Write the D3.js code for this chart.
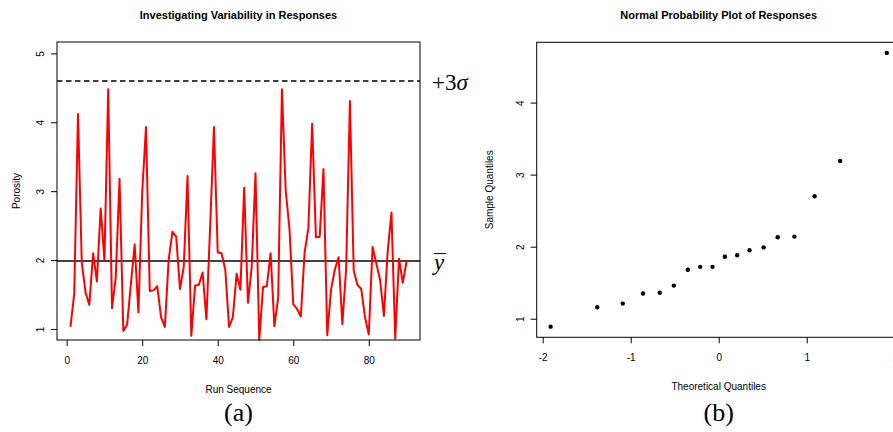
<!DOCTYPE html>
<html>
<head>
<meta charset="utf-8">
<script src="https://cdn.jsdelivr.net/npm/d3@7"></script>
<style>
  body { margin: 0; background: #fff; }
  svg { display: block; }
  text { font-family: "Liberation Sans", Arial, sans-serif; fill: #000; }
</style>
</head>
<body>
<svg id="chart" width="893" height="432"></svg>
<script>
// run sequence (panel a) - porosity per run
const runValues = [
  1.03, 1.51, 4.12, 1.96, 1.53, 1.35, 2.10, 1.69, 2.75, 2.00,
  4.48, 1.30, 1.75, 3.18, 0.97, 1.06, 1.65, 2.23, 1.24, 2.98,
  3.93, 1.55, 1.56, 1.62, 1.17, 1.03, 2.00, 2.41, 2.34, 1.58,
  1.90, 3.22, 0.90, 1.63, 1.64, 1.82, 1.14, 2.50, 3.93, 2.11,
  2.10, 1.86, 1.03, 1.17, 1.80, 1.57, 3.05, 1.38, 1.90, 3.26,
  0.84, 1.61, 1.62, 2.10, 1.04, 1.45, 4.48, 3.01, 2.45, 1.36,
  1.29, 1.18, 2.11, 2.46, 3.98, 2.33, 2.34, 3.32, 0.91, 1.57,
  1.86, 2.04, 1.07, 1.87, 4.31, 1.85, 1.64, 1.58, 1.17, 0.92,
  2.19, 1.95, 1.71, 1.19, 2.12, 2.69, 0.86, 2.02, 1.67, 1.98
];
const meanLevel = 1.985;
const upperLimit = 4.60;   // +3 sigma
const runTicks = [0, 20, 40, 60, 80];
const porosityTicks = [1, 2, 3, 4, 5];

// normal probability plot (panel b)
const theoreticalQ = [-1.91, -1.38, -1.09, -0.86, -0.67, -0.51, -0.35, -0.21, -0.07,
                      0.07, 0.21, 0.35, 0.51, 0.67, 0.86, 1.09, 1.38, 1.91];
const sampleQ = [0.89, 1.16, 1.21, 1.35, 1.36, 1.46, 1.68, 1.72, 1.72,
                 1.86, 1.88, 1.95, 1.99, 2.13, 2.14, 2.70, 3.19, 4.69];
const theoTicks = [-2, -1, 0, 1, 2];
const sampleTicks = [1, 2, 3, 4];

const svg = d3.select("#chart");

const tickFont = 10;
const plainFmt = d => String(d);   // R prints a plain hyphen, not the unicode minus

// ---------- panel (a) ----------
const boxA = { left: 57, right: 420, top: 42, bottom: 340 };
const xA = d3.scaleLinear().domain([-2.56, 93.56]).range([boxA.left, boxA.right]);
const yA = d3.scaleLinear().domain([0.84, 5.165]).range([boxA.bottom, boxA.top]);

const gA = svg.append("g");

gA.append("line")
    .attr("x1", boxA.left).attr("x2", boxA.right)
    .attr("y1", yA(upperLimit)).attr("y2", yA(upperLimit))
    .attr("stroke", "#000").attr("stroke-width", 1.5)
    .attr("stroke-dasharray", "5.5,3.5");

gA.append("line")
    .attr("x1", boxA.left).attr("x2", boxA.right)
    .attr("y1", yA(meanLevel)).attr("y2", yA(meanLevel))
    .attr("stroke", "#000").attr("stroke-width", 1.5);

const runLine = d3.line()
    .x((d, i) => xA(i + 1))
    .y(d => yA(d));

gA.append("path")
    .datum(runValues)
    .attr("d", runLine)
    .attr("fill", "none")
    .attr("stroke", "#ff0000")
    .attr("stroke-width", 2)
    .attr("stroke-linejoin", "round");

gA.append("rect")
    .attr("x", boxA.left).attr("y", boxA.top)
    .attr("width", boxA.right - boxA.left).attr("height", boxA.bottom - boxA.top)
    .attr("fill", "none").attr("stroke", "#000").attr("stroke-width", 1);

const axA_x = gA.append("g")
    .attr("transform", `translate(0,${boxA.bottom})`)
    .call(d3.axisBottom(xA).tickValues(runTicks).tickFormat(plainFmt).tickSize(6).tickPadding(11));
axA_x.select(".domain").remove();

const axA_y = gA.append("g")
    .attr("transform", `translate(${boxA.left},0)`)
    .call(d3.axisLeft(yA).tickValues(porosityTicks).tickFormat(plainFmt).tickSize(6));
axA_y.select(".domain").remove();
axA_y.selectAll(".tick text")
    .attr("transform", "rotate(-90)")
    .attr("x", 0).attr("y", -13)
    .attr("dy", "0")
    .style("text-anchor", "middle");

svg.selectAll(".tick text").style("font-size", tickFont + "px")
    .style("font-family", "Liberation Sans, Arial, sans-serif");

gA.append("text")
    .attr("x", (boxA.left + boxA.right) / 2).attr("y", 19)
    .attr("text-anchor", "middle")
    .style("font-weight", "bold").style("font-size", "11px")
    .text("Investigating Variability in Responses");

gA.append("text")
    .attr("x", (boxA.left + boxA.right) / 2).attr("y", 393)
    .attr("text-anchor", "middle")
    .style("font-size", "10px")
    .text("Run Sequence");

gA.append("text")
    .attr("transform", `translate(20,${(boxA.top + boxA.bottom) / 2}) rotate(-90)`)
    .attr("text-anchor", "middle")
    .style("font-size", "10px")
    .text("Porosity");

// +3 sigma label and y-bar label
const sigLabel = gA.append("text")
    .attr("x", 432).attr("y", yA(upperLimit) + 9)
    .style("font-family", "Liberation Serif, Times New Roman, serif")
    .style("font-size", "23px");
sigLabel.append("tspan").text("+3");
sigLabel.append("tspan").style("font-style", "italic").text("σ");

gA.append("text")
    .attr("x", 434).attr("y", yA(meanLevel) + 9)
    .style("font-family", "Liberation Serif, Times New Roman, serif")
    .style("font-size", "23px")
    .style("font-style", "italic")
    .text("y");
gA.append("line")
    .attr("x1", 434).attr("x2", 446)
    .attr("y1", yA(meanLevel) - 7.5).attr("y2", yA(meanLevel) - 7.5)
    .attr("stroke", "#000").attr("stroke-width", 1);

gA.append("text")
    .attr("x", (boxA.left + boxA.right) / 2).attr("y", 421)
    .attr("text-anchor", "middle")
    .style("font-family", "Liberation Serif, Times New Roman, serif")
    .style("font-size", "26px")
    .text("(a)");

// ---------- panel (b) ----------
const boxB = { left: 536.7, right: 900.7, top: 42.3, bottom: 337.3 };
const xB = d3.scaleLinear().domain([-2.068, 2.068]).range([boxB.left, boxB.right]);
const yB = d3.scaleLinear().domain([0.742, 4.837]).range([boxB.bottom, boxB.top]);

const gB = svg.append("g");

gB.append("rect")
    .attr("x", boxB.left).attr("y", boxB.top)
    .attr("width", boxB.right - boxB.left).attr("height", boxB.bottom - boxB.top)
    .attr("fill", "none").attr("stroke", "#000").attr("stroke-width", 1);

gB.selectAll("circle.pt")
    .data(theoreticalQ.map((q, i) => ({ q: q, s: sampleQ[i] })))
    .join("circle")
    .attr("class", "pt")
    .attr("cx", d => xB(d.q))
    .attr("cy", d => yB(d.s))
    .attr("r", 2.2)
    .attr("fill", "#000");

const axB_x = gB.append("g")
    .attr("transform", `translate(0,${boxB.bottom})`)
    .call(d3.axisBottom(xB).tickValues(theoTicks).tickFormat(plainFmt).tickSize(6).tickPadding(11));
axB_x.select(".domain").remove();

const axB_y = gB.append("g")
    .attr("transform", `translate(${boxB.left},0)`)
    .call(d3.axisLeft(yB).tickValues(sampleTicks).tickFormat(plainFmt).tickSize(6));
axB_y.select(".domain").remove();
axB_y.selectAll(".tick text")
    .attr("transform", "rotate(-90)")
    .attr("x", 0).attr("y", -13)
    .attr("dy", "0")
    .style("text-anchor", "middle");

gB.selectAll(".tick text").style("font-size", tickFont + "px")
    .style("font-family", "Liberation Sans, Arial, sans-serif");

gB.append("text")
    .attr("x", xB(0)).attr("y", 19)
    .attr("text-anchor", "middle")
    .style("font-weight", "bold").style("font-size", "11px")
    .text("Normal Probability Plot of Responses");

gB.append("text")
    .attr("x", xB(0)).attr("y", 390)
    .attr("text-anchor", "middle")
    .style("font-size", "10px")
    .text("Theoretical Quantiles");

gB.append("text")
    .attr("transform", `translate(493,${(boxB.top + boxB.bottom) / 2}) rotate(-90)`)
    .attr("text-anchor", "middle")
    .style("font-size", "10px")
    .text("Sample Quantiles");

gB.append("text")
    .attr("x", xB(0)).attr("y", 421)
    .attr("text-anchor", "middle")
    .style("font-family", "Liberation Serif, Times New Roman, serif")
    .style("font-size", "26px")
    .text("(b)");
</script>
</body>
</html>
